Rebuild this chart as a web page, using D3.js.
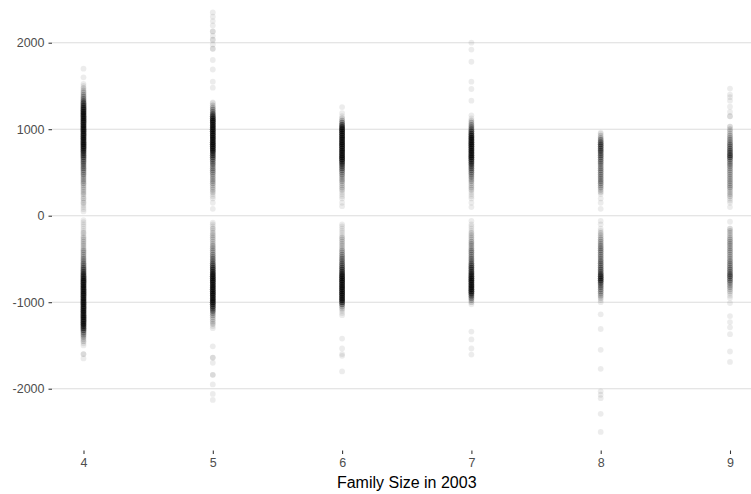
<!DOCTYPE html>
<html><head><meta charset="utf-8">
<script src="https://cdn.jsdelivr.net/npm/d3@7"></script>
<style>body{margin:0;background:#fff}svg{display:block}</style>
</head><body><svg id="chart" width="751" height="494"></svg>
<script>
// Family size categories; each series lists [value, number of points at that value]
const categories = [4, 5, 6, 7, 8, 9];
const xTickLabels = ["4", "5", "6", "7", "8", "9"];
const yTickValues = [-2000, -1000, 0, 1000, 2000];
const yTickLabels = ["-2000", "-1000", "0", "1000", "2000"];
const xTitle = "Family Size in 2003";

const size4 = [[1700,1],[1600,1],[1525,1],[1500,1],[1475,2],[1450,2],[1425,3],[1400,3],[1375,4],[1350,5],[1325,6],[1300,8],[1275,9],[1250,10],[1225,11],[1200,12],[1175,12],[1150,12],[1125,12],[1100,12],[1075,12],[1050,12],[1025,12],[1000,12],[975,12],[950,12],[925,12],[900,12],[875,12],[850,12],[825,12],[800,12],[775,11],[750,10],[725,9],[700,8],[675,7],[650,6],[625,6],[600,5],[575,5],[550,5],[525,4],[500,4],[475,4],[450,3],[425,3],[400,3],[375,3],[350,2],[325,2],[300,2],[275,2],[250,2],[225,1],[200,2],[175,1],[150,2],[125,1],[100,1],[75,1],[50,1],
  [-50,1],[-75,1],[-100,1],[-125,1],[-150,1],[-175,1],[-200,2],[-225,1],[-250,2],[-275,2],[-300,2],[-325,2],[-350,2],[-375,2],[-400,3],[-425,3],[-450,3],[-475,3],[-500,4],[-525,4],[-550,5],[-575,5],[-600,6],[-625,7],[-650,8],[-675,9],[-700,10],[-725,11],[-750,12],[-775,12],[-800,12],[-825,12],[-850,12],[-875,12],[-900,12],[-925,12],[-950,12],[-975,12],[-1000,12],[-1025,12],[-1050,12],[-1075,12],[-1100,12],[-1125,12],[-1150,12],[-1175,12],[-1200,12],[-1225,12],[-1250,12],[-1275,11],[-1300,9],[-1325,7],[-1350,5],[-1375,4],[-1400,3],[-1425,2],[-1450,2],[-1475,1],[-1500,1],[-1600,2],[-1650,1]];
const size5 = [[2350,1],[2300,1],[2250,1],[2200,1],[2130,2],[2080,1],[2035,2],[1980,1],[1930,2],[1800,1],[1690,1],[1550,1],[1480,1],
  [1310,1],[1300,1],[1275,2],[1250,3],[1225,4],[1200,5],[1175,7],[1150,9],[1125,11],[1100,12],[1075,12],[1050,12],[1025,12],[1000,12],[975,12],[950,12],[925,12],[900,12],[875,12],[850,12],[825,12],[800,12],[775,12],[750,11],[725,9],[700,8],[675,7],[650,6],[625,5],[600,5],[575,4],[550,4],[525,4],[500,4],[475,3],[450,3],[425,3],[400,3],[375,3],[350,2],[325,2],[300,2],[275,2],[250,1],[225,1],[200,1],[150,1],[80,1],
  [-80,1],[-100,1],[-125,1],[-150,2],[-175,1],[-200,2],[-225,2],[-250,2],[-275,2],[-300,2],[-325,2],[-350,3],[-375,3],[-400,3],[-425,3],[-450,4],[-475,4],[-500,5],[-525,5],[-550,6],[-575,7],[-600,8],[-625,9],[-650,10],[-675,11],[-700,12],[-725,12],[-750,12],[-775,12],[-800,12],[-825,12],[-850,12],[-875,12],[-900,12],[-925,12],[-950,12],[-975,12],[-1000,12],[-1025,10],[-1050,9],[-1075,7],[-1100,6],[-1125,4],[-1150,3],[-1175,2],[-1200,2],[-1225,2],[-1250,2],[-1275,1],[-1300,1],[-1510,1],[-1640,2],[-1700,1],[-1840,2],[-1950,1],[-2060,1],[-2130,1]];
const size6 = [[1256,1],[1186,1],[1150,1],[1125,2],[1100,3],[1075,5],[1050,8],[1025,10],[1000,12],[975,12],[950,12],[925,12],[900,12],[875,12],[850,12],[825,12],[800,12],[775,12],[750,12],[725,12],[700,12],[675,12],[650,12],[625,10],[600,8],[575,7],[550,6],[525,5],[500,4],[475,4],[450,3],[425,3],[400,3],[375,2],[350,2],[325,2],[300,2],[275,1],[250,1],[225,1],[200,1],[150,1],[110,1],
  [-100,1],[-125,1],[-150,1],[-175,1],[-200,1],[-225,1],[-250,2],[-275,2],[-300,2],[-325,2],[-350,2],[-375,2],[-400,3],[-425,3],[-450,4],[-475,4],[-500,5],[-525,5],[-550,6],[-575,6],[-600,7],[-625,8],[-650,9],[-675,10],[-700,12],[-725,12],[-750,12],[-775,12],[-800,12],[-825,12],[-850,12],[-875,12],[-900,12],[-925,12],[-950,12],[-975,12],[-1000,9],[-1025,6],[-1050,3],[-1075,2],[-1100,1],[-1125,1],[-1150,1],[-1420,1],[-1535,1],[-1600,1],[-1620,1],[-1800,1]];
const size7 = [[2000,1],[1920,1],[1780,1],[1550,1],[1465,1],[1330,1],[1160,1],[1125,1],[1100,2],[1075,3],[1050,4],[1025,5],[1000,6],[975,8],[950,9],[925,11],[900,12],[875,12],[850,12],[825,12],[800,12],[775,12],[750,12],[725,12],[700,12],[675,12],[650,10],[625,9],[600,8],[575,7],[550,6],[525,5],[500,5],[475,4],[450,4],[425,3],[400,3],[375,2],[350,2],[325,2],[300,2],[275,1],[250,1],[225,1],[200,1],[150,1],[100,1],
  [-60,1],[-100,1],[-125,1],[-150,1],[-175,1],[-200,2],[-225,2],[-250,2],[-275,2],[-300,3],[-325,3],[-350,3],[-375,3],[-400,4],[-425,4],[-450,4],[-475,4],[-500,5],[-525,5],[-550,6],[-575,7],[-600,8],[-625,8],[-650,9],[-675,10],[-700,11],[-725,12],[-750,12],[-775,12],[-800,12],[-825,12],[-850,12],[-875,12],[-900,9],[-925,7],[-950,5],[-975,3],[-1000,2],[-1025,1],[-1340,1],[-1430,1],[-1535,1],[-1605,1]];
const size8 = [[960,1],[950,1],[925,2],[900,3],[875,5],[850,6],[825,7],[800,7],[775,7],[750,7],[725,6],[700,6],[675,5],[650,5],[625,5],[600,4],[575,4],[550,4],[525,4],[500,4],[475,4],[450,4],[425,4],[400,4],[375,4],[350,3],[325,3],[300,2],[275,2],[250,1],[200,1],[150,1],[80,1],
  [-60,1],[-100,1],[-150,1],[-175,1],[-200,2],[-225,2],[-250,2],[-275,3],[-300,3],[-325,3],[-350,4],[-375,4],[-400,4],[-425,4],[-450,4],[-475,4],[-500,4],[-525,5],[-550,5],[-575,5],[-600,5],[-625,6],[-650,6],[-675,8],[-700,9],[-725,10],[-750,9],[-775,7],[-800,5],[-825,5],[-850,4],[-875,4],[-900,3],[-925,3],[-950,2],[-975,1],[-1000,1],[-1140,1],[-1310,1],[-1550,1],[-1770,1],[-2030,1],[-2070,1],[-2110,1],[-2290,1],[-2500,1]];
const size9 = [[1470,1],[1400,1],[1370,1],[1330,1],[1260,1],[1200,1],[1150,2],[1030,2],[1000,2],[975,2],[950,2],[925,3],[900,3],[875,4],[850,4],[825,5],[800,5],[775,6],[750,6],[725,7],[700,8],[675,7],[650,5],[625,4],[600,4],[575,4],[550,3],[525,3],[500,3],[475,3],[450,3],[425,3],[400,3],[375,3],[350,3],[325,3],[300,2],[275,2],[250,2],[225,2],[200,1],[175,1],[150,1],[100,1],
  [-70,1],[-150,2],[-175,2],[-200,2],[-225,2],[-250,2],[-275,3],[-300,3],[-325,3],[-350,3],[-375,3],[-400,3],[-425,3],[-450,3],[-475,3],[-500,3],[-525,4],[-550,4],[-575,4],[-600,4],[-625,5],[-650,5],[-675,6],[-700,7],[-725,5],[-750,5],[-775,4],[-800,3],[-825,3],[-850,2],[-875,2],[-900,1],[-925,1],[-950,1],[-1010,1],[-1160,1],[-1230,1],[-1290,1],[-1370,1],[-1570,1],[-1690,1]];

const seriesBySize = [size4, size5, size6, size7, size8, size9];

// One point per observation
const points = [];
categories.forEach((c, i) => {
  seriesBySize[i].forEach(([v, n]) => {
    for (let k = 0; k < n; k++) points.push({size: c, value: v});
  });
});

const svg = d3.select("#chart");
const panel = {left: 52, right: 751, bottom: 449};
const font = "'Liberation Sans', Arial, sans-serif";

const x = d3.scaleLinear().domain([4, 9]).range([83.5, 730]);
const y = d3.scaleLinear().domain([0, 2000]).range([215.7, 42.7]);

// horizontal gridlines
svg.append("g").selectAll("line").data(yTickValues).join("line")
  .attr("x1", panel.left).attr("x2", panel.right)
  .attr("y1", d => y(d)).attr("y2", d => y(d))
  .attr("stroke", "#dcdcdc").attr("stroke-width", 1.07);

// points
svg.append("g").selectAll("circle").data(points).join("circle")
  .attr("cx", d => x(d.size)).attr("cy", d => y(d.value))
  .attr("r", 2.9).attr("fill", "#000").attr("fill-opacity", 0.075);

// y axis
const yAxis = svg.append("g").attr("transform", `translate(${panel.left},0)`)
  .call(d3.axisLeft(y).tickValues(yTickValues).tickSize(3.5).tickPadding(4)
    .tickFormat((d, i) => yTickLabels[i]));
yAxis.select(".domain").remove();
yAxis.selectAll(".tick line").attr("stroke", "#333").attr("stroke-width", 1.07);
yAxis.selectAll(".tick text").attr("fill", "#4d4d4d").attr("font-size", "12.5px").attr("font-family", font);

// x axis
const xAxis = svg.append("g").attr("transform", `translate(0,${panel.bottom + 1.5})`)
  .call(d3.axisBottom(x).tickValues(categories).tickSize(3.5).tickPadding(4)
    .tickFormat((d, i) => xTickLabels[i]));
xAxis.select(".domain").remove();
xAxis.selectAll(".tick line").attr("stroke", "#333").attr("stroke-width", 1.07);
xAxis.selectAll(".tick text").attr("fill", "#4d4d4d").attr("font-size", "12.5px").attr("font-family", font);

svg.append("text").attr("x", (x(4) + x(9)) / 2).attr("y", 488)
  .attr("text-anchor", "middle").attr("fill", "#000").attr("font-size", "16px")
  .attr("font-family", font).text(xTitle);
</script></body></html>
